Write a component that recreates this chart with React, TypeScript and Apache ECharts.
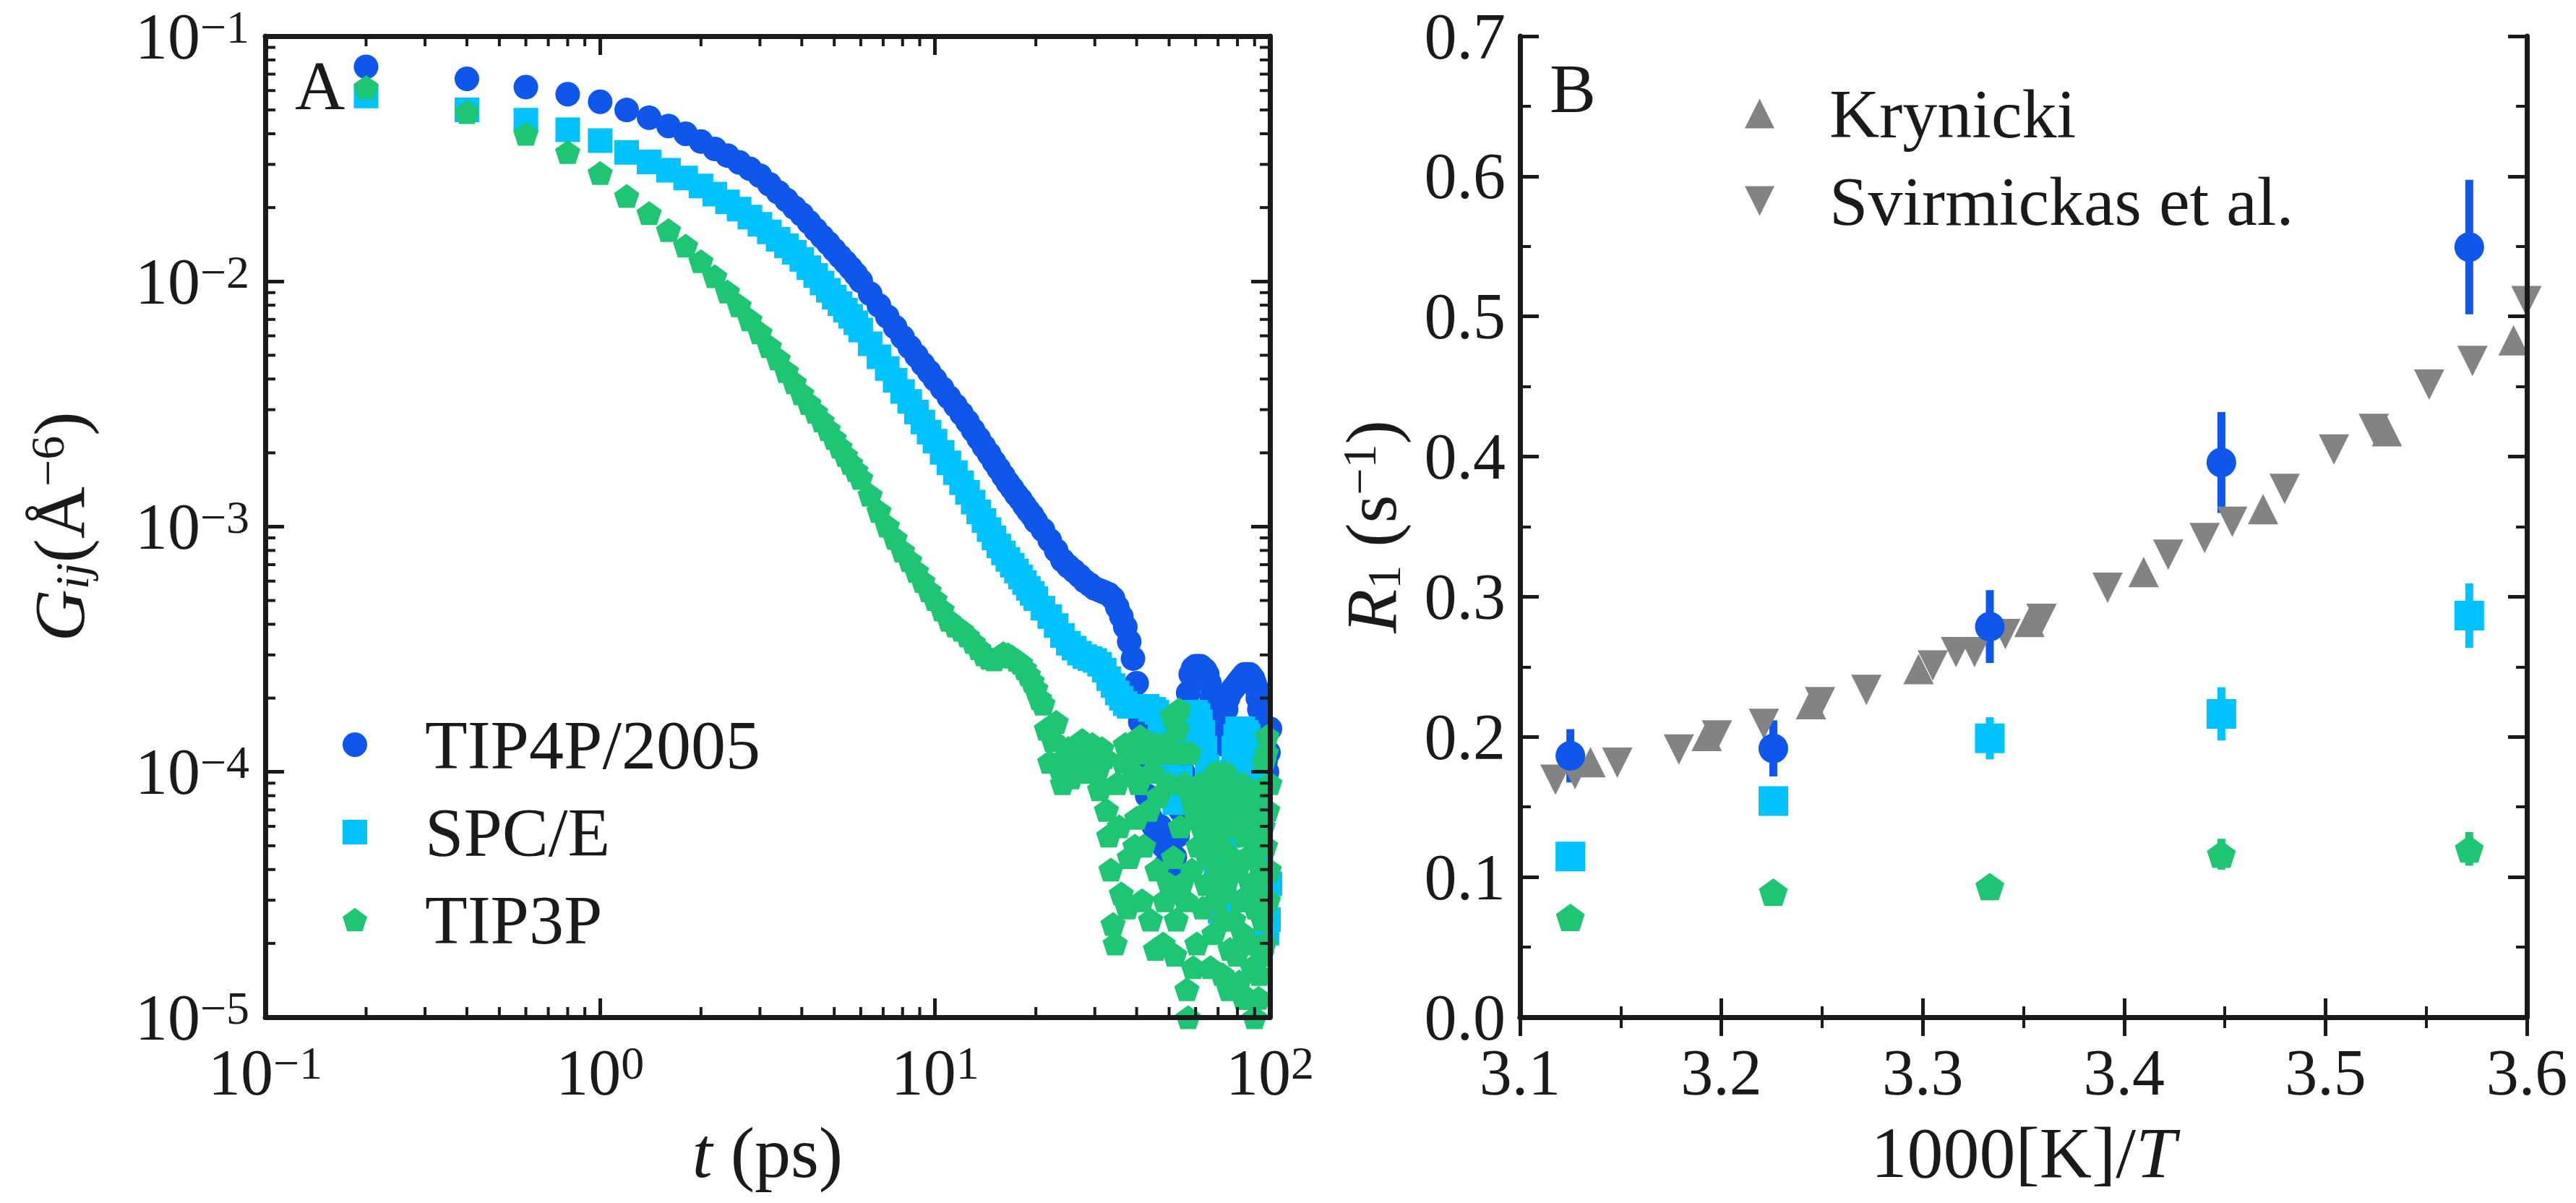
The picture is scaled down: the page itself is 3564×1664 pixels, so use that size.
import React, { useEffect, useRef } from 'react';
import * as echarts from 'echarts';

// ---- panel A : G_ij(t), log-log ----
const timePs = [
  0.2, 0.4, 0.6, 0.8, 1.0, 1.2, 1.4, 1.6, 1.8, 2.0, 2.2, 2.4, 2.6, 2.8, 3.0,
  3.2, 3.4, 3.6, 3.8, 4.0, 4.2, 4.4, 4.6, 4.8, 5.0, 5.2, 5.4, 5.6, 5.8, 6.0,
  6.4, 6.8, 7.2, 7.6, 8.0, 8.4, 8.8, 9.2, 9.6, 10,
  10.5, 11, 11.5, 12, 12.5, 13, 13.5, 14, 14.5, 15, 15.5, 16, 16.5, 17, 17.5, 18, 18.5, 19, 19.5, 20,
  21, 22, 23, 24, 25, 26, 27, 28, 29, 30, 31, 32, 33, 34, 35, 36, 37, 38, 39, 40,
  41, 42, 43, 44, 45, 46, 47, 48, 49, 50, 51, 52, 53, 54, 55, 56, 57, 58, 59, 60,
  61, 62, 63, 64, 65, 66, 67, 68, 69, 70, 71, 72, 73, 74, 75, 76, 77, 78, 79, 80,
  81, 82, 83, 84, 85, 86, 87, 88, 89, 90, 91, 92, 93, 94, 95, 96, 97, 98, 99, 100,
];

const gTip4p = [
  0.075, 0.067, 0.062, 0.058, 0.054, 0.05, 0.0465, 0.043, 0.04, 0.0372, 0.0347, 0.0326, 0.0306, 0.0288, 0.027,
  0.0249, 0.0231, 0.0215, 0.02, 0.01875, 0.01745, 0.01626, 0.0152, 0.0143, 0.01343, 0.01265, 0.01197, 0.01132, 0.01069, 0.01005,
  0.00891, 0.00798, 0.00719, 0.00651, 0.00592, 0.0054, 0.00498, 0.0046, 0.00428, 0.00398,
  0.00366, 0.00337, 0.00312, 0.00289, 0.00268, 0.00247, 0.00229, 0.00212, 0.00198, 0.00184,
  0.00172, 0.00161, 0.00151, 0.00143, 0.00135, 0.00129, 0.00122, 0.00116, 0.00111, 0.00105,
  9.7e-4, 8.8e-4, 8.0e-4, 7.3e-4, 6.9e-4, 6.6e-4, 6.3e-4, 6.0e-4, 5.8e-4, 5.6e-4,
  5.5e-4, 5.4e-4, 5.3e-4, 5.1e-4, 4.7e-4, 4.3e-4, 3.9e-4, 3.4e-4, 2.9e-4, 2.3e-4,
  1.6e-4, 1.1e-4, 8.0e-5, 6.5e-5, 6.0e-5, 5.5e-5, 6.0e-5, 5.0e-5, 4.2e-5, 3.8e-5,
  4.0e-5, 4.5e-5, 5.5e-5, 7.0e-5, 1.0e-4, 1.5e-4, 2.1e-4, 2.5e-4, 2.65e-4, 2.7e-4,
  2.7e-4, 2.7e-4, 2.65e-4, 2.6e-4, 2.5e-4, 2.3e-4, 2.0e-4, 1.8e-4, 1.6e-4, 1.4e-4,
  1.3e-4, 1.3e-4, 1.5e-4, 1.8e-4, 2.0e-4, 2.1e-4, 2.15e-4, 2.2e-4, 2.25e-4, 2.3e-4,
  2.35e-4, 2.4e-4, 2.45e-4, 2.5e-4, 2.5e-4, 2.5e-4, 2.5e-4, 2.45e-4, 2.4e-4, 2.3e-4,
  2.2e-4, 2.0e-4, 1.8e-4, 1.6e-4, 1.4e-4, 1.2e-4, 1.1e-4, 1.0e-4, 1.2e-4, 1.5e-4,
];

const gSpce = [
  0.057, 0.05, 0.0454, 0.0415, 0.0375, 0.0336, 0.0307, 0.0284, 0.0264, 0.0245, 0.0227, 0.0211, 0.0197, 0.0183, 0.0171,
  0.01592, 0.01486, 0.01396, 0.01315, 0.0123, 0.01138, 0.01057, 0.00985, 0.0092, 0.00863, 0.00811, 0.00764, 0.00721, 0.00678, 0.00634,
  0.00557, 0.00493, 0.00441, 0.00395, 0.00356, 0.00324, 0.00293, 0.00267, 0.00243, 0.00223,
  0.00201, 0.00182, 0.00166, 0.00151, 0.00138, 0.00126, 0.00115, 0.00106, 0.000973, 0.0009,
  0.000834, 0.000782, 0.000736, 0.000697, 0.000659, 0.000624, 0.000592, 0.000561, 0.000535, 0.000509,
  4.65e-4, 4.3e-4, 3.95e-4, 3.6e-4, 3.35e-4, 3.2e-4, 3.05e-4, 2.95e-4, 2.9e-4, 2.85e-4,
  2.75e-4, 2.6e-4, 2.4e-4, 2.25e-4, 2.1e-4, 2.0e-4, 1.9e-4, 1.85e-4, 1.85e-4, 1.85e-4,
  1.85e-4, 1.85e-4, 1.85e-4, 1.8e-4, 1.8e-4, 1.75e-4, 1.6e-4, 1.35e-4, 1.1e-4, 9.0e-5,
  8.0e-5, 7.5e-5, 8.0e-5, 9.5e-5, 1.2e-4, 1.5e-4, 1.7e-4, 1.75e-4, 1.75e-4, 1.75e-4,
  1.7e-4, 1.6e-4, 1.45e-4, 1.25e-4, 1.05e-4, 8.5e-5, 6.5e-5, 5.0e-5, 3.8e-5, 3.0e-5,
  2.7e-5, 2.6e-5, 3.0e-5, 4.0e-5, 5.5e-5, 7.5e-5, 1.0e-4, 1.25e-4, 1.4e-4, 1.5e-4,
  1.5e-4, 1.5e-4, 1.5e-4, 1.45e-4, 1.45e-4, 1.4e-4, 1.3e-4, 1.2e-4, 1.05e-4, 9.0e-5,
  7.5e-5, 6.5e-5, 5.5e-5, 4.5e-5, 3.5e-5, 2.8e-5, 2.4e-5, 2.2e-5, 2.5e-5, 3.5e-5,
];

const gTip3p = [
  0.062, 0.049, 0.04, 0.0337, 0.0277, 0.0223, 0.019, 0.0162, 0.014, 0.0121, 0.0105, 0.0091, 0.008, 0.007, 0.0062,
  0.00545, 0.00485, 0.00431, 0.00388, 0.0035, 0.00319, 0.00294, 0.00271, 0.0025, 0.0023, 0.00212, 0.00196, 0.00182, 0.0017, 0.00158,
  0.00135, 0.00116, 0.00101, 0.0009, 0.0008, 0.00073, 0.00066, 0.0006, 0.00055, 0.000507,
  0.00046, 0.000417, 0.000395, 0.00038, 0.00036, 0.000339, 0.00032, 0.000302, 0.000292, 0.000288,
  0.000296, 0.000305, 0.000302, 0.000295, 0.000287, 0.000279, 0.000265, 0.00025, 0.000235, 0.000219,
  1.9e-4, 1.1e-4, 1.6e-4, 9.0e-5, 1.25e-4, 1.05e-4, 1.3e-4, 1.0e-4, 1.25e-4, 1.2e-4,
  8.5e-5, 1.15e-4, 5.5e-5, 2.4e-5, 9.0e-5, 3.2e-5, 1.3e-4, 4.5e-5, 1.0e-4, 6.5e-5,
  1.4e-4, 5.0e-5, 1.2e-4, 2.5e-5, 1.3e-4, 4.0e-5, 1.2e-4, 2.0e-5, 1.3e-4, 3.5e-5,
  1.7e-4, 1.8e-5, 1.5e-4, 6.0e-5, 1.2e-4, 3.0e-5, 1.0e-5, 8.0e-5, 1.6e-5, 8.5e-5,
  5.0e-5, 9.0e-5, 2.8e-5, 9.0e-5, 4.5e-5, 9.0e-5, 6.5e-5, 2.2e-5, 1.0e-4, 4.0e-5,
  8.0e-5, 1.5e-5, 7.0e-5, 3.5e-5, 9.0e-5, 1.9e-5, 6.0e-5, 2.5e-5, 8.0e-5, 4.0e-5,
  1.4e-5, 7.0e-5, 2.2e-5, 5.5e-5, 3.0e-5, 1.2e-5, 6.0e-5, 2.0e-5, 4.5e-5, 1.0e-5,
  3.5e-5, 6.5e-5, 1.5e-5, 4.0e-5, 2.5e-5, 1.1e-4, 5.0e-5, 1.4e-4, 3.0e-5, 9.0e-5,
];

// extra TIP3P samples between the whole-ps ones, where its noisy tail forms a cloud
const timeTail = [
  20.5, 21.5, 22.5, 23.5, 24.5, 25.5, 26.5, 27.5, 28.5, 29.5, 30.5, 31.5, 32.5, 33.5, 34.5, 35.5, 36.5, 37.5, 38.5, 39.5,
  40.5, 41.5, 42.5, 43.5, 44.5, 45.5, 46.5, 47.5, 48.5, 49.5, 50.5, 51.5, 52.5, 53.5, 54.5, 55.5, 56.5, 57.5, 58.5, 59.5,
  60.5, 61.5, 62.5, 63.5, 64.5, 65.5, 66.5, 67.5, 68.5, 69.5, 70.5, 71.5, 72.5, 73.5, 74.5, 75.5, 76.5, 77.5, 78.5, 79.5,
  80.5, 81.5, 82.5, 83.5, 84.5, 85.5, 86.5, 87.5, 88.5, 89.5, 90.5, 91.5, 92.5, 93.5, 94.5, 95.5, 96.5, 97.5, 98.5, 99.5,
];
const gTip3pTail = [
  2.0e-4, 1.5e-4, 1.35e-4, 1.05e-4, 1.15e-4, 9.5e-5, 1.2e-4, 1.35e-4, 1.1e-4, 1.3e-4,
  1.0e-4, 1.25e-4, 7.0e-5, 4.0e-5, 2.0e-5, 6.0e-5, 1.1e-4, 2.8e-5, 1.2e-4, 5.0e-5,
  9.0e-5, 3.0e-5, 1.3e-4, 7.0e-5, 1.0e-4, 1.9e-5, 8.0e-5, 1.3e-4, 3.0e-5, 9.0e-5,
  1.2e-4, 4.5e-5, 2.5e-5, 1.8e-4, 3.5e-5, 9.0e-5, 1.3e-5, 1.2e-4, 4.0e-5, 7.0e-5,
  2.0e-5, 7.0e-5, 6.0e-5, 8.0e-5, 3.5e-5, 8.0e-5, 1.6e-5, 7.5e-5, 5.5e-5, 3.0e-5,
  9.5e-5, 5.0e-5, 2.5e-5, 1.0e-4, 6.0e-5, 1.3e-5, 8.5e-5, 4.5e-5, 8.0e-5, 1.8e-5,
  6.5e-5, 3.0e-5, 9.0e-5, 1.2e-5, 7.5e-5, 4.5e-5, 7.0e-5, 3.5e-5, 1.6e-5, 7.0e-5,
  2.8e-5, 5.0e-5, 1.2e-5, 8.5e-5, 1.8e-5, 6.0e-5, 2.0e-5, 1.2e-4, 7.0e-5, 4.0e-5,
];

// ---- panel B : R1 vs 1000/T ----
const invTemp = [3.125, 3.2258, 3.3333, 3.4483, 3.5714];
const r1Tip4p = [0.1865, 0.1918, 0.2787, 0.3958, 0.5495];
const errTip4p = [0.019, 0.02, 0.026, 0.036, 0.048];
const r1Spce = [0.1147, 0.1542, 0.199, 0.2164, 0.2865];
const errSpce = [0.004, 0.01, 0.015, 0.019, 0.023];
const r1Tip3p = [0.0712, 0.0892, 0.0933, 0.1163, 0.1201];
const errTip3p = [0.003, 0.003, 0.005, 0.011, 0.012];

const krynickiX = [3.135, 3.1927, 3.2445, 3.2979, 3.353, 3.4097, 3.469, 3.5305, 3.5934];
const krynickiY = [0.182, 0.2006, 0.2234, 0.2484, 0.282, 0.3176, 0.3625, 0.4181, 0.4829];
const svirX = [
  3.1176, 3.1273, 3.1483, 3.1789, 3.1978, 3.2211, 3.249, 3.272, 3.305, 3.3165, 3.3257, 3.341,
  3.359, 3.3918, 3.4219, 3.44, 3.4537, 3.4797, 3.5042, 3.524, 3.5515, 3.573, 3.5998,
];
const svirY = [
  0.1694, 0.1735, 0.1816, 0.191, 0.2011, 0.2093, 0.2248, 0.2335, 0.2509, 0.2605, 0.2605, 0.2734,
  0.2842, 0.3064, 0.33, 0.3419, 0.3535, 0.377, 0.4051, 0.4198, 0.4513, 0.4683, 0.511,
];

const T_MIN = 0.1;
const T_MAX = 100;
const G_MIN = 1e-5;
const G_MAX = 0.1;
const tDecades = [0.1, 1, 10];
const gDecades = [1e-5, 1e-4, 1e-3, 1e-2];
const minorSteps = [2, 3, 4, 5, 6, 7, 8, 9];

const FONT = '"Liberation Serif", "DejaVu Serif", serif';
const INK = '#1a1a1a';
const BLUE = '#0f56ea';
const CYAN = '#00c2fd';
const GREEN = '#1ec673';
const GRAY = '#838383';

const PENTAGON = 'path://M95.1,0L190.2,69.1L153.9,180.9L36.3,180.9L0,69.1Z';
const TRI_UP = 'path://M50,0L100,100L0,100Z';
const TRI_DOWN = 'path://M0,0L100,0L50,100Z';

const zip = (xs: number[], ys: number[]) => xs.map((x, i) => [x, ys[i]]);

const expText = (v: number) => {
  const e = Math.round(Math.log10(v));
  return e < 0 ? '\u2212' + -e : String(e);
};
const powLabel = (v: number) => `{b|10}{s|${expText(v)}}`;
// the top label of the G axis sits at the page edge: its exponent is raised a little less
const powLabelY = (v: number) => `{b|10}{${v >= G_MAX * 0.99 ? 't' : 's'}|${expText(v)}}`;

const tickRich = {
  b: { fontFamily: FONT, fontSize: 90, lineHeight: 90, color: INK },
  s: { fontFamily: FONT, fontSize: 64, lineHeight: 44, verticalAlign: 'top', color: INK },
  t: { fontFamily: FONT, fontSize: 64, lineHeight: 60, verticalAlign: 'top', color: INK },
};

const axisLine = { show: true, lineStyle: { color: INK, width: 7 } };
const majorTick = { show: true, inside: true, length: 26, lineStyle: { color: INK, width: 5 } };
const minorTick = { show: true, splitNumber: 2, length: 15, lineStyle: { color: INK, width: 4 } };

const App: React.FC = () => {
  const chartRef = useRef<HTMLDivElement | null>(null);

  useEffect(() => {
    document.body.style.margin = '0';
    document.body.style.overflow = 'hidden';
    if (!chartRef.current) return;
    const chart = echarts.init(chartRef.current, undefined, { renderer: 'svg' });

    // minor ticks of the log axes (2..9 in every decade), drawn through the axes' own scale
    const xMinor: number[][] = [];
    tDecades.forEach((d) => minorSteps.forEach((m) => xMinor.push([m * d, G_MIN])));
    const yMinor: number[][] = [];
    gDecades.forEach((d) => minorSteps.forEach((m) => yMinor.push([T_MIN, m * d])));

    const tickStyle = { stroke: INK, lineWidth: 4 };
    const MINOR = 14;

    const errorSeries = (ys: number[], errs: number[], color: string) => ({
      type: 'custom',
      xAxisIndex: 2,
      yAxisIndex: 2,
      silent: true,
      data: invTemp.map((x, i) => [x, ys[i], errs[i]]),
      renderItem: (_p: any, api: any) => {
        const x = api.value(0);
        const y = api.value(1);
        const e = api.value(2);
        const lo = api.coord([x, y - e]);
        const hi = api.coord([x, y + e]);
        return {
          type: 'line',
          shape: { x1: lo[0], y1: lo[1], x2: hi[0], y2: hi[1] },
          style: { stroke: color, lineWidth: 11 },
        };
      },
    });

    const nameRich = {
      i: { fontFamily: FONT, fontSize: 100, fontStyle: 'italic', lineHeight: 100, color: INK },
      b: { fontFamily: FONT, fontSize: 100, lineHeight: 100, color: INK },
    };

    const option = {
      animation: false,
      backgroundColor: '#ffffff',
      textStyle: { fontFamily: FONT },
      grid: [
        { left: 367, right: 1807, top: 50, bottom: 257 },
        { left: 2103, right: 68, top: 50, bottom: 257 },
      ],
      xAxis: [
        {
          type: 'log', logBase: 10, min: T_MIN, max: T_MAX, gridIndex: 0, z: 10,
          axisLine, axisTick: majorTick, splitLine: { show: false },
          axisLabel: { margin: 31, formatter: powLabel, rich: tickRich, color: INK },
          name: '{i|t}{b| (ps)}', nameLocation: 'middle', nameGap: 137,
          nameTextStyle: { rich: nameRich },
        },
        {
          type: 'log', logBase: 10, min: T_MIN, max: T_MAX, gridIndex: 0, position: 'top', z: 10,
          axisLine, axisTick: majorTick, axisLabel: { show: false }, splitLine: { show: false },
        },
        {
          type: 'value', min: 3.1, max: 3.6, interval: 0.1, gridIndex: 1, z: 10,
          axisLine, axisTick: majorTick, minorTick, splitLine: { show: false },
          axisLabel: {
            margin: 31, fontFamily: FONT, fontSize: 90, color: INK,
            formatter: (v: number) => v.toFixed(1),
          },
          name: '{b|1000[K]/}{i|T}', nameLocation: 'middle', nameGap: 137,
          nameTextStyle: { rich: nameRich },
        },
        {
          type: 'value', min: 3.1, max: 3.6, interval: 0.1, gridIndex: 1, position: 'top', z: 10,
          axisLine, axisTick: majorTick, minorTick, axisLabel: { show: false }, splitLine: { show: false },
        },
      ],
      yAxis: [
        {
          type: 'log', logBase: 10, min: G_MIN, max: G_MAX, gridIndex: 0, z: 10,
          axisLine, axisTick: majorTick, splitLine: { show: false },
          axisLabel: { margin: 22, formatter: powLabelY, rich: tickRich, color: INK },
          name: '{g|G}{sub|ij}{b|(\u00c5}{sup|\u22126}{b|)}', nameLocation: 'middle', nameGap: 235,
          nameTextStyle: {
            rich: {
              g: { fontFamily: FONT, fontSize: 100, fontStyle: 'italic', lineHeight: 100, color: INK },
              sub: { fontFamily: FONT, fontSize: 66, fontStyle: 'italic', lineHeight: 30, verticalAlign: 'bottom', color: INK },
              b: { fontFamily: FONT, fontSize: 100, lineHeight: 100, color: INK },
              sup: { fontFamily: FONT, fontSize: 66, lineHeight: 10, verticalAlign: 'top', color: INK },
            },
          },
        },
        {
          type: 'log', logBase: 10, min: G_MIN, max: G_MAX, gridIndex: 0, position: 'right', z: 10,
          axisLine, axisTick: majorTick, axisLabel: { show: false }, splitLine: { show: false },
        },
        {
          type: 'value', min: 0, max: 0.7, interval: 0.1, gridIndex: 1, z: 10,
          axisLine, axisTick: majorTick, minorTick, splitLine: { show: false },
          axisLabel: {
            margin: 20, fontFamily: FONT, fontSize: 90, color: INK,
            formatter: (v: number) => v.toFixed(1),
          },
          name: '{r|R}{sub|1}{b| (s}{sup|\u22121}{b|)}', nameLocation: 'middle', nameGap: 156,
          nameTextStyle: {
            rich: {
              r: { fontFamily: FONT, fontSize: 100, fontStyle: 'italic', lineHeight: 100, color: INK },
              sub: { fontFamily: FONT, fontSize: 66, lineHeight: 40, verticalAlign: 'bottom', color: INK },
              b: { fontFamily: FONT, fontSize: 100, lineHeight: 100, color: INK },
              sup: { fontFamily: FONT, fontSize: 66, lineHeight: 46, verticalAlign: 'top', color: INK },
            },
          },
        },
        {
          type: 'value', min: 0, max: 0.7, interval: 0.1, gridIndex: 1, position: 'right', z: 10,
          axisLine, axisTick: majorTick, minorTick, axisLabel: { show: false }, splitLine: { show: false },
        },
      ],
      legend: [
        {
          left: 474, top: 982, orient: 'vertical', padding: 0, itemWidth: 34, itemHeight: 34, itemGap: 25,
          selectedMode: false,
          textStyle: { fontFamily: FONT, fontSize: 96, lineHeight: 96, color: INK, padding: [0, 0, 0, 75] },
          data: [
            { name: 'TIP4P/2005', icon: 'circle' },
            { name: 'SPC/E', icon: 'rect' },
            { name: 'TIP3P', icon: PENTAGON },
          ],
        },
        {
          left: 2414, top: 109, orient: 'vertical', padding: 0, itemWidth: 41, itemHeight: 42, itemGap: 25,
          selectedMode: false,
          textStyle: { fontFamily: FONT, fontSize: 96, lineHeight: 96, color: INK, padding: [0, 0, 0, 71] },
          data: [
            { name: 'Krynicki', icon: TRI_UP },
            { name: 'Svirmickas et al.', icon: TRI_DOWN },
          ],
        },
      ],
      graphic: [
        {
          type: 'text', x: 408, y: 118, z: 20,
          style: { text: 'A', fill: INK, fontFamily: FONT, fontSize: 96, align: 'left', verticalAlign: 'middle', textAlign: 'left', textVerticalAlign: 'middle' },
        },
        {
          type: 'text', x: 2144, y: 122, z: 20,
          style: { text: 'B', fill: INK, fontFamily: FONT, fontSize: 96, align: 'left', verticalAlign: 'middle', textAlign: 'left', textVerticalAlign: 'middle' },
        },
      ],
      series: [
        {
          name: 'TIP4P/2005', type: 'scatter', xAxisIndex: 0, yAxisIndex: 0, silent: true,
          symbol: 'circle', symbolSize: 34, itemStyle: { color: BLUE, opacity: 1 },
          data: zip(timePs, gTip4p),
        },
        {
          name: 'SPC/E', type: 'scatter', xAxisIndex: 0, yAxisIndex: 0, silent: true,
          symbol: 'rect', symbolSize: 34, itemStyle: { color: CYAN, opacity: 1 },
          data: zip(timePs, gSpce),
        },
        {
          name: 'TIP3P', type: 'scatter', xAxisIndex: 0, yAxisIndex: 0, silent: true,
          symbol: PENTAGON, symbolSize: [35, 33], itemStyle: { color: GREEN, opacity: 1 },
          data: zip(timePs, gTip3p).concat(zip(timeTail, gTip3pTail)),
        },
        {
          type: 'custom', xAxisIndex: 0, yAxisIndex: 0, silent: true, z: 12, clip: false,
          data: xMinor,
          renderItem: (_p: any, api: any) => {
            const v = api.value(0);
            const b = api.coord([v, G_MIN]);
            const t = api.coord([v, G_MAX]);
            return {
              type: 'group',
              children: [
                { type: 'line', shape: { x1: b[0], y1: b[1], x2: b[0], y2: b[1] - MINOR }, style: tickStyle },
                { type: 'line', shape: { x1: t[0], y1: t[1], x2: t[0], y2: t[1] + MINOR }, style: tickStyle },
              ],
            };
          },
        },
        {
          type: 'custom', xAxisIndex: 0, yAxisIndex: 0, silent: true, z: 12, clip: false,
          data: yMinor,
          renderItem: (_p: any, api: any) => {
            const v = api.value(1);
            const l = api.coord([T_MIN, v]);
            const r = api.coord([T_MAX, v]);
            return {
              type: 'group',
              children: [
                { type: 'line', shape: { x1: l[0], y1: l[1], x2: l[0] + MINOR, y2: l[1] }, style: tickStyle },
                { type: 'line', shape: { x1: r[0], y1: r[1], x2: r[0] - MINOR, y2: r[1] }, style: tickStyle },
              ],
            };
          },
        },
        {
          name: 'Krynicki', type: 'scatter', xAxisIndex: 2, yAxisIndex: 2, silent: true,
          symbol: TRI_UP, symbolSize: 42, itemStyle: { color: GRAY, opacity: 1 },
          data: zip(krynickiX, krynickiY),
        },
        {
          name: 'Svirmickas et al.', type: 'scatter', xAxisIndex: 2, yAxisIndex: 2, silent: true,
          symbol: TRI_DOWN, symbolSize: 42, itemStyle: { color: GRAY, opacity: 1 },
          data: zip(svirX, svirY),
        },
        errorSeries(r1Tip4p, errTip4p, BLUE),
        {
          name: 'TIP4P/2005', type: 'scatter', xAxisIndex: 2, yAxisIndex: 2, silent: true,
          symbol: 'circle', symbolSize: 41, itemStyle: { color: BLUE, opacity: 1 },
          data: zip(invTemp, r1Tip4p),
        },
        errorSeries(r1Spce, errSpce, CYAN),
        {
          name: 'SPC/E', type: 'scatter', xAxisIndex: 2, yAxisIndex: 2, silent: true,
          symbol: 'rect', symbolSize: 41, itemStyle: { color: CYAN, opacity: 1 },
          data: zip(invTemp, r1Spce),
        },
        errorSeries(r1Tip3p, errTip3p, GREEN),
        {
          name: 'TIP3P', type: 'scatter', xAxisIndex: 2, yAxisIndex: 2, silent: true,
          symbol: PENTAGON, symbolSize: [40, 38], itemStyle: { color: GREEN, opacity: 1 },
          data: zip(invTemp, r1Tip3p),
        },
      ],
    };

    chart.setOption(option as any);

    return () => {
      chart.dispose();
    };
  }, []);

  return <div ref={chartRef} style={{ width: '3564px', height: '1664px' }} />;
};

export default App;
